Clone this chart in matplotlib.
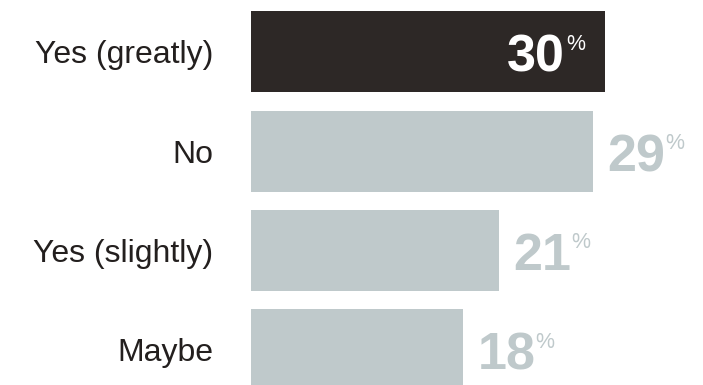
import matplotlib.pyplot as plt

# survey answers, top to bottom
answers = ["Yes (greatly)", "No", "Yes (slightly)", "Maybe"]
shares = [30, 29, 21, 18]
highlight = [True, False, False, False]

DARK = "#2d2826"
GREY = "#bfc9cb"
FONT = "Liberation Sans"

fig = plt.figure(figsize=(7.03, 3.85), dpi=100)
ax = fig.add_axes([251 / 703, 0, 452 / 703, 1])

pos = list(range(len(answers)))
colors = [DARK if h else GREY for h in highlight]
ax.barh(pos, shares, height=0.814, color=colors, linewidth=0)

ax.set_xlim(0, 452 / 11.8)
ax.set_ylim(3.352, -0.518)
ax.set_yticks(pos)
ax.set_yticklabels(answers, fontfamily=FONT, fontsize=23, color="#231f1e")
ax.tick_params(axis="y", length=0, pad=27)
ax.set_xticks([])
for s in ax.spines.values():
    s.set_visible(False)

# value labels: big bold number plus a small raised percent sign
fig.canvas.draw()
renderer = fig.canvas.get_renderer()
for y, v, h in zip(pos, shares, highlight):
    col = "white" if h else GREY
    if h:
        dx = -40
        ha = "right"
    else:
        dx = 14
        ha = "left"
    num = ax.annotate(str(v), xy=(v, y), xytext=(dx, -20), textcoords="offset pixels",
                      ha=ha, va="baseline", fontfamily=FONT, fontweight="bold",
                      fontsize=37.5, color=col)
    w = num.get_window_extent(renderer).width
    px = dx + 1 if h else dx + w
    ax.annotate("%", xy=(v, y), xytext=(px, -20 + 22), textcoords="offset pixels",
                ha="left", va="baseline", fontfamily=FONT, fontsize=15.5, color=col)

fig.savefig("out.png", dpi=100)
